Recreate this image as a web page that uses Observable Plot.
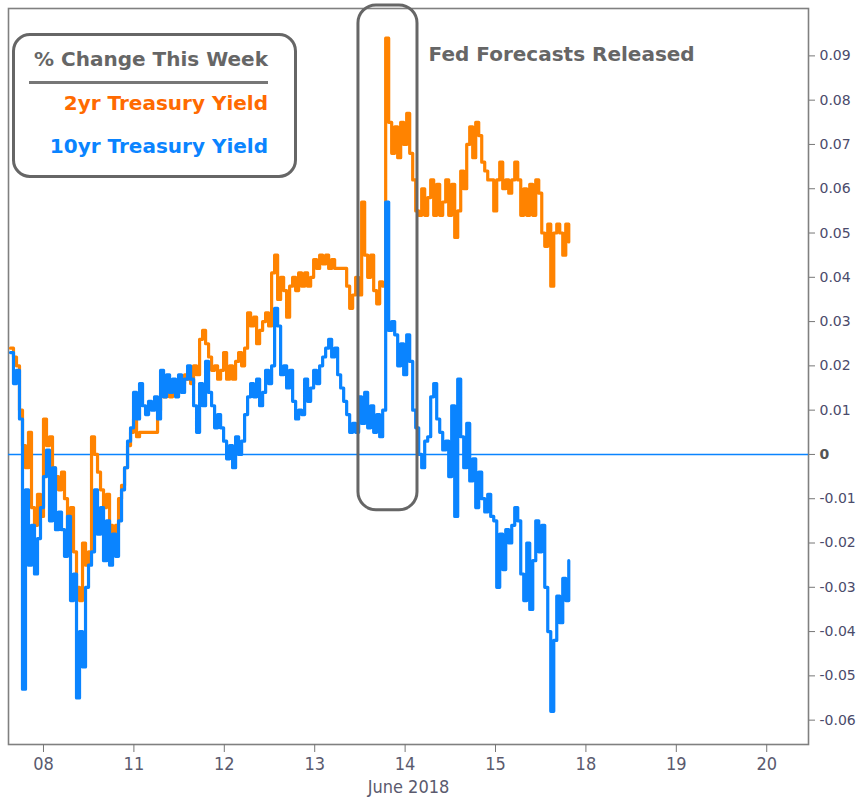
<!DOCTYPE html>
<html>
<head>
<meta charset="utf-8">
<script src="https://cdn.jsdelivr.net/npm/d3@7"></script>
<script src="https://cdn.jsdelivr.net/npm/@observablehq/plot@0.6"></script>
<style>
  html, body { margin: 0; padding: 0; background: #fff; }
  #wrap { position: relative; width: 868px; height: 802px; overflow: hidden; }
  #legend {
    position: absolute; left: 12px; top: 33px; width: 285px; height: 145px;
    box-sizing: border-box; border: 3px solid #666; border-radius: 18px;
    font-family: "DejaVu Sans", sans-serif; font-weight: bold; font-size: 20px;
  }
  #legend div { position: absolute; right: 26px; white-space: nowrap; line-height: 1; }
  #legend .title { top: 13px; color: #666; }
  #legend .rule { top: 45px; left: 14px; right: 26px; height: 3px; background: #777; }
  #legend .two { top: 57px; color: #ff6a00; }
  #legend .ten { top: 100px; color: #0a84ff; }
</style>
</head>
<body>
<div id="wrap">
  <div id="legend">
    <div class="title">% Change This Week</div>
    <div class="rule"></div>
    <div class="two">2yr Treasury Yield</div>
    <div class="ten">10yr Treasury Yield</div>
  </div>
</div>
<script>
// Trading-day axis (weekends removed): position 0 = Fri June 8, 2018
const tickDays = [0, 1, 2, 3, 4, 5, 6, 7, 8];
const tickLabels = ["08", "11", "12", "13", "14", "15", "18", "19", "20"];
const axisTitle = "June 2018";

// Regular intraday sampling of the two series (in trading days)
const sampleStartDay = -0.365;
const sampleStepDay = 0.0332;

// Weekly change, in thousandths of a percentage point
const twoYrChg = [
  24,22,20,10,2,-3,5,-12,-16,-9,
  -14,8,2,4,-3,-5,-8,-4,-10,-18,
  -12,-22,-30,-33,-20,-25,-22,4,0,-4,
  -8,-12,-9,-16,-18,-16,-10,-7,-3,2,
  5,8,4,5,5,5,5,5,5,10,
  14,13,16,13,15,14,17,16,18,17,
  16,20,18,26,28,25,22,19,20,17,
  19,23,17,20,17,21,23,20,24,32,
  29,31,25,28,30,32,29,41,45,35,
  40,37,31,38,40,37,41,38,41,38,
  40,44,42,45,43,45,42,44,42,42,
  42,42,38,33,36,40,36,57,45,40,
  45,37,34,39,38,94,75,68,74,67,
  75,70,77,68,62,55,54,60,54,58,
  62,54,61,54,57,62,54,61,49,55,
  64,60,70,74,67,75,72,66,64,62,
  62,55,62,66,60,62,59,62,66,62,
  54,60,54,61,54,62,59,50,47,52,
  38,50,52,50,45,52,48
];
const tenYrChg = [
  23,16,19,8,-53,-8,-25,-16,-27,-19,
  -12,-5,1,-15,-3,-17,-13,-17,-23,-14,
  -33,-27,-55,-40,-48,-30,-25,-22,-8,-18,
  -12,-24,-15,-25,-18,-23,-15,-8,-3,3,
  6,14,8,16,11,9,12,10,13,8,
  19,13,18,14,17,13,18,14,17,20,
  17,11,5,16,11,21,14,11,6,9,
  6,3,-1,2,-3,4,0,3,9,13,
  16,13,17,11,14,19,16,20,33,29,
  18,20,15,19,12,8,10,9,17,12,
  15,19,16,20,22,24,26,22,24,18,
  15,12,9,5,7,5,13,7,14,6,
  11,5,9,4,10,57,28,30,27,20,
  25,18,27,21,10,6,0,-3,3,4,
  13,16,8,5,1,3,-5,11,-14,17,
  4,-3,7,-6,-1,-12,-4,-10,-13,-9,
  -14,-15,-30,-18,-26,-17,-20,-16,-12,-15,
  -27,-33,-20,-35,-24,-15,-22,-16,-30,-40,
  -58,-42,-32,-38,-28,-33,-24
];

const yTicks = [-0.06, -0.05, -0.04, -0.03, -0.02, -0.01, 0, 0.01, 0.02, 0.03, 0.04, 0.05, 0.06, 0.07, 0.08, 0.09];

// Annotation: window around the Fed release (trading days / % change)
const fedWindow = [{x1: 3.484, x2: 4.137, y1: -0.0126, y2: 0.1014}];
const fedLabel = [{x: 4.26, y: 0.0903, text: "Fed Forecasts Released"}];

const toRows = (arr) => arr.map((v, i) => ({t: sampleStartDay + i * sampleStepDay, v: v / 1000}));
const two = toRows(twoYrChg);
const ten = toRows(tenYrChg);

const ORANGE = "#ff8300";
const BLUE = "#0a84ff";

const chart = Plot.plot({
  width: 868,
  height: 802,
  marginLeft: 8,
  marginRight: 60,
  marginTop: 8,
  marginBottom: 58,
  style: {fontFamily: "DejaVu Sans, sans-serif", background: "#fff", overflow: "visible"},
  x: {domain: [-0.387, 8.462], axis: null},
  y: {domain: [-0.0655, 0.1007], axis: null},
  marks: [
    Plot.frame({stroke: "#808080", strokeWidth: 1.6}),
    Plot.ruleY([0], {stroke: BLUE, strokeWidth: 1.5}),
    Plot.line(two, {x: "t", y: "v", stroke: ORANGE, strokeWidth: 3.2, curve: "step-after"}),
    Plot.line(ten, {x: "t", y: "v", stroke: BLUE, strokeWidth: 3.2, curve: "step-after"}),
    Plot.axisY(yTicks, {anchor: "right", tickSize: 6, tickPadding: 5, label: null,
      tickFormat: d => d === 0 ? "0" : d.toFixed(2), fontSize: 14}),
    Plot.axisX(tickDays, {anchor: "bottom", tickSize: 8, tickPadding: 5, label: null,
      tickFormat: (d, i) => tickLabels[tickDays.indexOf(d)], fontSize: 18}),
    Plot.text([axisTitle], {frameAnchor: "bottom", dy: 48, fontSize: 18, fill: "#5a5a6e", className: "xtitle"}),
    Plot.rect(fedWindow, {x1: "x1", x2: "x2", y1: "y1", y2: "y2", rx: 18, fill: "none", stroke: "#666", strokeWidth: 3}),
    Plot.text(fedLabel, {x: "x", y: "y", text: "text", textAnchor: "start", fontSize: 20, fontWeight: "bold", fill: "#666"})
  ]
});

document.getElementById("wrap").prepend(chart);

const svg = d3.select(chart);
svg.selectAll('[aria-label="y-axis tick"]').attr("stroke", "#777");
svg.selectAll('[aria-label="y-axis tick label"]').attr("fill", "#4b4b6b")
  .selectAll("text").filter(function() { return this.textContent === "0"; })
  .attr("font-weight", "bold").attr("fill", "#555");
svg.selectAll('[aria-label="x-axis tick"]').attr("stroke", "#777");
svg.selectAll('[aria-label="x-axis tick label"]').attr("fill", "#5a5a6e")
  .attr("font-family", "'Liberation Sans Narrow', 'DejaVu Sans Condensed', sans-serif");
svg.selectAll(".xtitle").attr("font-family", "'Liberation Sans Narrow', 'DejaVu Sans Condensed', sans-serif");
svg.selectAll('[aria-label="rect"] rect').attr("rx", 18).attr("ry", 18);
</script>
</body>
</html>
